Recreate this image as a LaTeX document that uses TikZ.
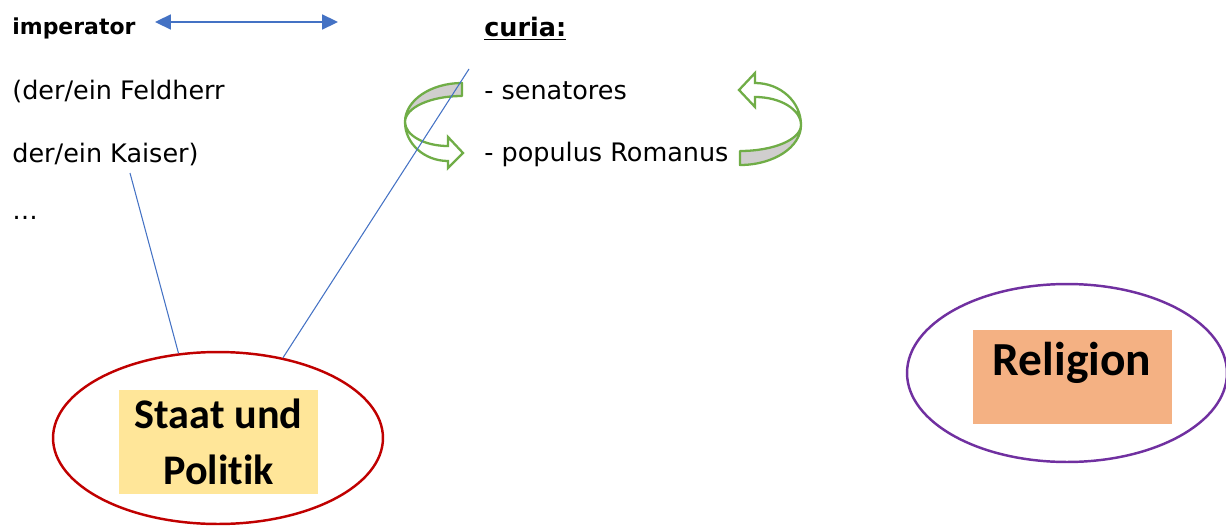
\documentclass[tikz,border=0pt]{standalone}
\usepackage{fontspec}
\setmainfont{DejaVu Sans}
\newfontfamily\calibri[Ligatures=NoCommon]{Carlito}
\usetikzlibrary{arrows.meta, positioning, shapes.geometric}
\definecolor{linkblue}{HTML}{4472C4}
\definecolor{turngreen}{HTML}{70AD47}
\definecolor{bandgray}{HTML}{D0CECE}
\definecolor{staatred}{HTML}{C00000}
\definecolor{religpurple}{HTML}{7030A0}
\definecolor{staatfill}{HTML}{FFE699}
\definecolor{religfill}{HTML}{F4B183}

\begin{document}
\begin{tikzpicture}[x=0.02cm, y=-0.02cm,
    wordtxt/.style={font=\fontsize{14.5}{17}\selectfont, inner sep=0pt, anchor=base west},
    headtxt/.style={wordtxt, font=\fontsize{12.5}{16}\selectfont\bfseries},
    themetxt/.style={font=\calibri\fontsize{24}{32}\selectfont\bfseries, align=center, inner sep=0pt},
    themebox/.style={minimum width=3.98cm, inner sep=0pt},
    themering/.style={draw, ellipse, line width=1.4pt, inner sep=0pt},
    turnband/.style={draw=turngreen, line width=1.3pt, fill=bandgray, line join=round},
    turnfront/.style={draw=turngreen, line width=1.3pt, fill=white, line join=miter},
    link/.style={draw=linkblue, line width=0.6pt}
]
\useasboundingbox (0,0) rectangle (1226,527);

% left column - imperator
\node[headtxt] (imp) at (12,35) {imperator};
\node[wordtxt, below=1.3cm of imp.base west, anchor=base west] (feld) {(der/ein Feldherr};
\node[wordtxt, below=1.26cm of feld.base west, anchor=base west] (kaiser) {der/ein Kaiser)};
\node[wordtxt, below=1.14cm of kaiser.base west, anchor=base west] (dots) {\dots};

% right column - curia
\node[headtxt, font=\fontsize{14.5}{16}\selectfont\bfseries] (curia) at (484,37) {\underline{curia:}};
\node[wordtxt, below=1.26cm of curia.base west, anchor=base west] (sen) {- senatores};
\node[wordtxt, below=1.24cm of sen.base west, anchor=base west] (pop) {- populus Romanus};

% double arrow between the two
\coordinate (impR) at (155,22);
\coordinate (curL) at (338,22);
\draw[{Triangle[length=9pt, width=8.5pt]}-{Triangle[length=9pt, width=8.5pt]}, linkblue, line width=1pt] (impR) -- (curL);

% turning arrows
\draw[turnband] (462,83) .. controls (430.5,83) and (405,100.5) .. (405,122)
    .. controls (405,107.6) and (430.5,96) .. (462,96) -- cycle;
\draw[turnfront] (405,122) .. controls (405,143.5) and (424.3,161) .. (448,161)
    -- (448,168) -- (463,153) -- (448,137) -- (448,146)
    .. controls (424.3,146) and (405,135.2) .. (405,122) -- cycle;
\draw[turnband] (740,165) .. controls (773.7,165) and (801,147.1) .. (801,125)
    .. controls (801,139.4) and (773.7,151) .. (740,151) -- cycle;
\draw[turnfront] (801,125) .. controls (801,101.8) and (780.4,83) .. (755,83)
    -- (755,73) -- (739,90) -- (755,107) -- (755,97)
    .. controls (780.4,97) and (801,109.5) .. (801,125) -- cycle;

% Staat und Politik
\node[themering, draw=staatred, minimum width=6.6cm, minimum height=3.44cm] (staat) at (218,438) {};
\node[themebox, fill=staatfill, minimum height=2.08cm] (staatbox) at (218.5,442) {};
\node[themetxt] (staattxt) at (staatbox) {Staat und\\Politik};

% Religion
\node[themering, draw=religpurple, minimum width=6.4cm, minimum height=3.56cm] (relig) at (1067,373) {};
\node[themebox, fill=religfill, minimum height=1.88cm] (religbox) at (1072.5,377) {};
\node[themetxt, font=\calibri\fontsize{27}{32}\selectfont\bfseries, anchor=base] (religtxt) at (1072,375) {Religion};

% connectors
\coordinate (kaiserfoot) at (130,173);
\coordinate (curiafoot) at (469,69);
\draw[link] (kaiserfoot) -- (staat.115);
\draw[link] (curiafoot) -- (staat.51);
\end{tikzpicture}
\end{document}
